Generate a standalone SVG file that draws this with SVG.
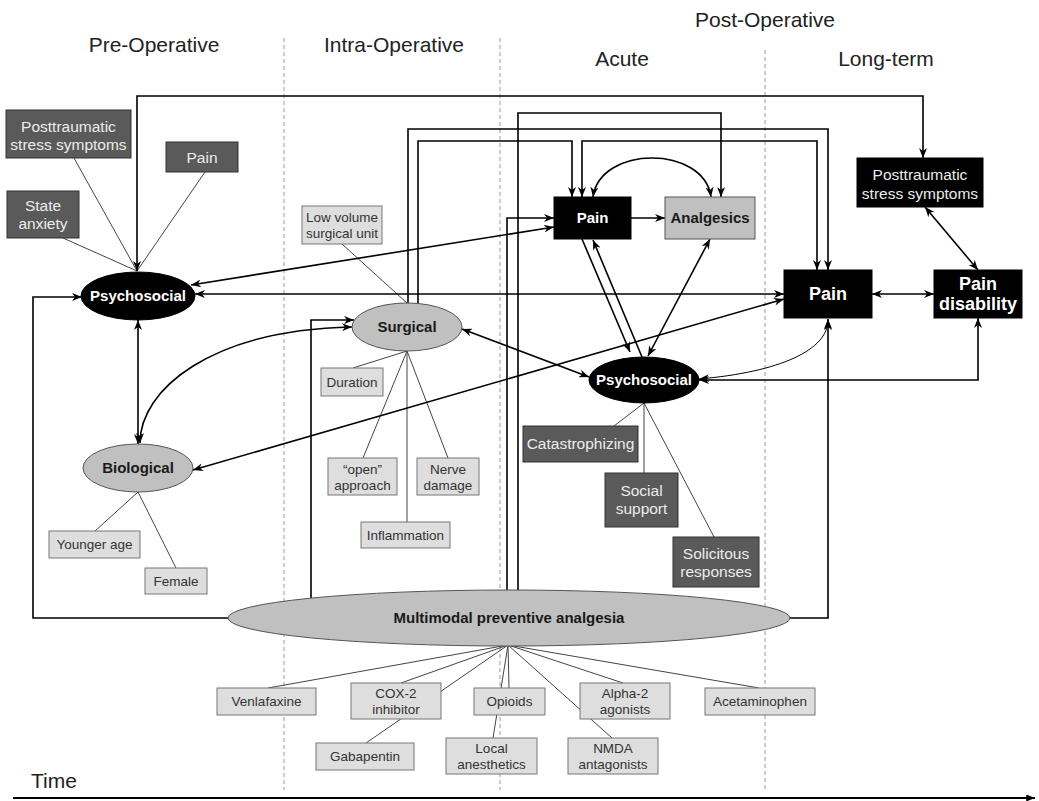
<svg xmlns="http://www.w3.org/2000/svg" width="1039" height="801" viewBox="0 0 1039 801">
<style>
text{font-family:"Liberation Sans",Arial,sans-serif;text-anchor:middle}
.hd{font-size:21px;fill:#222}
.dark{fill:#5a5a5a;stroke:#333;stroke-width:1}
.dt{font-size:15.5px;fill:#ececec}
.light{fill:#dedede;stroke:#777;stroke-width:1}
.lt{font-size:13.5px;fill:#333}
.blk{fill:#000;stroke:#000}
.bt{font-size:15px;font-weight:bold;fill:#fff}
.bt18{font-size:18px;font-weight:bold;fill:#fff}
.gray{fill:#c0c0c0;stroke:#555;stroke-width:1}
.gt{font-size:15px;font-weight:bold;fill:#1a1a1a}
.cb{fill:none;stroke:#000;stroke-width:1.6;marker-start:url(#ah);marker-end:url(#ah)}
.ce{fill:none;stroke:#000;stroke-width:1.6;marker-end:url(#ah)}
.thin{fill:none;stroke:#000;stroke-width:1;marker-start:url(#ah);marker-end:url(#ah)}
.ln{fill:none;stroke:#444;stroke-width:1}
.dash{stroke:#999;stroke-width:1;stroke-dasharray:4 3}
</style>
<defs>
<marker id="ah" viewBox="0 0 10 8" refX="10" refY="4" markerWidth="11" markerHeight="8" markerUnits="userSpaceOnUse" orient="auto-start-reverse"><path d="M0,0 L10,4 L0,8 L3,4 z" fill="#000"/></marker>
<marker id="ta" viewBox="0 0 10 8" refX="10" refY="4" markerWidth="9" markerHeight="7" markerUnits="userSpaceOnUse" orient="auto"><path d="M0,0 L10,4 L0,8 z" fill="#000"/></marker>
</defs>
<rect width="1039" height="801" fill="#fff"/>
<g id="phases">
<line class="dash" x1="284" y1="38" x2="284" y2="790"/>
<line class="dash" x1="500" y1="38" x2="500" y2="790"/>
<line class="dash" x1="765" y1="50" x2="765" y2="790"/>
<text class="hd" x="765" y="27">Post-Operative</text>
<text class="hd" x="154" y="52">Pre-Operative</text>
<text class="hd" x="394" y="52">Intra-Operative</text>
<text class="hd" x="622" y="66">Acute</text>
<text class="hd" x="886" y="66">Long-term</text>
<text class="hd" x="54" y="788">Time</text>
<line x1="13" y1="798" x2="1035" y2="798" stroke="#000" stroke-width="1.8" marker-end="url(#ta)"/>
</g>
<g id="connectors">
<path class="ln" d="M74,158 L137,271 M205,172 L137,271 M63,238 L137,271"/>
<path class="ln" d="M342,244 L407,303 M407,351 L353,368 M407,351 L363,458 M407,351 V522 M407,351 L448,458"/>
<path class="ln" d="M138,492 L95,531 M138,492 L176,568"/>
<path class="ln" d="M644,403 L614,426 M644,403 V473 M644,403 L714,537"/>
<path class="ln" d="M508,645 L268,688 M508,645 L401,683 M508,645 L366,743 M508,645 L509,688 M508,645 L493,738 M508,645 L623,683 M508,645 L612,738 M508,645 L759,688"/>
<path class="cb" d="M137,271 V96 H923 V158"/>
<path class="ce" d="M228,618 H33 V297 H82"/>
<path class="ce" d="M790,618 H828 V319"/>
<path class="ce" d="M311,598 V320 H354"/>
<path class="ce" d="M507,591 V218 H554"/>
<path class="ce" d="M518,591 V113 H721 V197"/>
<path class="ce" d="M408,303 V129 H828 V270"/>
<path class="ce" d="M418,304 V141 H572 V197"/>
<path class="cb" d="M582,197 V141 H817 V270"/>
<path class="ce" d="M631,218 H665"/>
<path class="cb" d="M593,197 C600,145 704,145 711,197"/>
<path class="ce" d="M582,239 L630,352"/>
<path class="ce" d="M642,357 L593,240"/>
<path class="cb" d="M710,239 L648,356"/>
<path class="cb" d="M191,285 L554,227"/>
<path class="cb" d="M195,294 H784"/>
<path class="cb" d="M193,470 L784,299"/>
<path class="cb" d="M462,329 L589,377"/>
<path class="cb" d="M138,320 V444"/>
<path class="cb" d="M140,443 C140,390 210,330 352,327"/>
<path class="cb" d="M872,294 H934"/>
<path class="cb" d="M925,207 L978,270"/>
<path class="cb" d="M699,380 H978 V318"/>
<path class="thin" d="M699,379 C780,372 828,350 828,320"/>
</g>
<g id="pre-ptss"><rect class="dark" x="6" y="110" width="125" height="48"/><text class="dt" x="68.5" y="132">Posttraumatic</text><text class="dt" x="68.5" y="150">stress symptoms</text></g>
<g id="pre-pain"><rect class="dark" x="166" y="142" width="72" height="30"/><text class="dt" x="202" y="163">Pain</text></g>
<g id="pre-anxiety"><rect class="dark" x="7" y="191" width="72" height="47"/><text class="dt" x="43" y="211">State</text><text class="dt" x="43" y="229">anxiety</text></g>
<g id="pre-psychosocial"><ellipse class="blk" cx="138" cy="296" rx="57" ry="24"/><text class="bt" x="138" y="301">Psychosocial</text></g>
<g id="biological"><ellipse class="gray" cx="138" cy="468" rx="55" ry="24"/><text class="gt" x="138" y="473">Biological</text></g>
<g id="younger-age"><rect class="light" x="49" y="531" width="91" height="27"/><text class="lt" x="94.5" y="549">Younger age</text></g>
<g id="female"><rect class="light" x="145" y="568" width="62" height="26"/><text class="lt" x="176" y="586">Female</text></g>
<g id="surgical"><ellipse class="gray" cx="407" cy="327" rx="55" ry="24"/><text class="gt" x="407" y="332">Surgical</text></g>
<g id="low-volume"><rect class="light" x="302" y="206" width="80" height="38"/><text class="lt" x="342" y="222">Low volume</text><text class="lt" x="342" y="238">surgical unit</text></g>
<g id="duration"><rect class="light" x="321" y="368" width="62" height="28"/><text class="lt" x="352" y="387">Duration</text></g>
<g id="open-approach"><rect class="light" x="328" y="458" width="69" height="37"/><text class="lt" x="362.5" y="474">“open”</text><text class="lt" x="362.5" y="490">approach</text></g>
<g id="nerve-damage"><rect class="light" x="417" y="458" width="62" height="37"/><text class="lt" x="448" y="474">Nerve</text><text class="lt" x="448" y="490">damage</text></g>
<g id="inflammation"><rect class="light" x="361" y="522" width="89" height="26"/><text class="lt" x="405.5" y="540">Inflammation</text></g>
<g id="acute-pain"><rect class="blk" x="554" y="197" width="77" height="42"/><text class="bt" x="592.5" y="223">Pain</text></g>
<g id="analgesics"><rect class="gray" x="665" y="197" width="90" height="42"/><text class="gt" x="710" y="223">Analgesics</text></g>
<g id="acute-psychosocial"><ellipse class="blk" cx="644" cy="380" rx="55" ry="23"/><text class="bt" x="644" y="385">Psychosocial</text></g>
<g id="catastrophizing"><rect class="dark" x="523" y="426" width="115" height="36"/><text class="dt" x="580.5" y="449">Catastrophizing</text></g>
<g id="social-support"><rect class="dark" x="605" y="473" width="73" height="54"/><text class="dt" x="641.5" y="496">Social</text><text class="dt" x="641.5" y="514">support</text></g>
<g id="solicitous"><rect class="dark" x="673" y="537" width="86" height="50"/><text class="dt" x="716" y="559">Solicitous</text><text class="dt" x="716" y="577">responses</text></g>
<g id="lt-ptss"><rect class="blk" x="857" y="158" width="126" height="49"/><text class="dt" x="920" y="180">Posttraumatic</text><text class="dt" x="920" y="199">stress symptoms</text></g>
<g id="lt-pain"><rect class="blk" x="784" y="270" width="88" height="48"/><text class="bt18" x="828" y="300">Pain</text></g>
<g id="pain-disability"><rect class="blk" x="934" y="270" width="88" height="48"/><text class="bt18" x="978" y="290">Pain</text><text class="bt18" x="978" y="310">disability</text></g>
<g id="multimodal"><ellipse class="gray" cx="509" cy="618" rx="281" ry="28"/><text class="gt" x="509" y="623">Multimodal preventive analgesia</text></g>
<g id="venlafaxine"><rect class="light" x="217" y="688" width="99" height="27"/><text class="lt" x="266.5" y="706">Venlafaxine</text></g>
<g id="cox2"><rect class="light" x="351" y="683" width="90" height="36"/><text class="lt" x="396" y="698">COX-2</text><text class="lt" x="396" y="714">inhibitor</text></g>
<g id="opioids"><rect class="light" x="474" y="688" width="71" height="27"/><text class="lt" x="509.5" y="706">Opioids</text></g>
<g id="alpha2"><rect class="light" x="580" y="683" width="90" height="36"/><text class="lt" x="625" y="698">Alpha-2</text><text class="lt" x="625" y="714">agonists</text></g>
<g id="acetaminophen"><rect class="light" x="705" y="688" width="110" height="27"/><text class="lt" x="760" y="706">Acetaminophen</text></g>
<g id="gabapentin"><rect class="light" x="316" y="743" width="98" height="27"/><text class="lt" x="365" y="761">Gabapentin</text></g>
<g id="local-anesthetics"><rect class="light" x="446" y="738" width="91" height="36"/><text class="lt" x="491.5" y="753">Local</text><text class="lt" x="491.5" y="769">anesthetics</text></g>
<g id="nmda"><rect class="light" x="568" y="738" width="90" height="36"/><text class="lt" x="613" y="753">NMDA</text><text class="lt" x="613" y="769">antagonists</text></g>
</svg>
